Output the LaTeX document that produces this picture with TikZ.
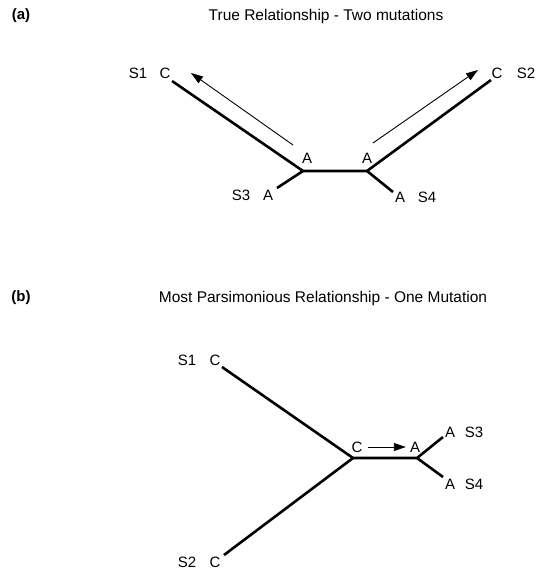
\documentclass[tikz,border=0pt]{standalone}
\usepackage{fontspec}
\setmainfont{Liberation Sans}
\usetikzlibrary{arrows.meta}
\begin{document}
\begin{tikzpicture}[x=1pt,y=-1pt,
  lbl/.style={inner sep=0pt,font=\fontsize{15}{18}\selectfont},
  ttl/.style={inner sep=0pt,font=\fontsize{15.5}{18}\selectfont},
  plbl/.style={inner sep=0pt,font=\fontsize{15}{18}\selectfont\bfseries},
  branch/.style={line width=2.6pt},
  mut/.style={line width=0.9pt,-{Triangle[length=12pt,width=8pt]}}]
\useasboundingbox (0,0) rectangle (538,572);
% ---------- (a) ----------
\node[plbl] (pa) at (21,16) {(a)};
\node[ttl] (ta) at (326,16) {True Relationship - Two mutations};
\node[lbl] (a1s) at (138,73) {S1};
\node[lbl] (a1c) at (165,73) {C};
\node[lbl] (a3s) at (241,195) {S3};
\node[lbl] (a3a) at (268,195) {A};
\node[lbl] (a4a) at (400,197) {A};
\node[lbl] (a4s) at (427,197) {S4};
\node[lbl] (a2c) at (497,73) {C};
\node[lbl] (a2s) at (526,73) {S2};
\node[lbl] (aLA) at (307,158) {A};
\node[lbl] (aRA) at (367,158) {A};
\coordinate (aLJ) at (303,171);
\coordinate (aRJ) at (367,171);
\coordinate (aE1) at (172,81);
\coordinate (aE3) at (277,188);
\coordinate (aE4) at (393,192);
\coordinate (aE2) at (491,80);
\draw[branch] (aE1) -- (aLJ) -- (aRJ) -- (aE2);
\draw[branch] (aE3) -- (aLJ);
\draw[branch] (aRJ) -- (aE4);
\coordinate (aM1s) at (293,145);
\coordinate (aM1e) at (191,73);
\coordinate (aM2s) at (373,143);
\coordinate (aM2e) at (478,70);
\draw[mut] (aM1s) -- (aM1e);
\draw[mut] (aM2s) -- (aM2e);
% ---------- (b) ----------
\node[plbl] (pb) at (21,298) {(b)};
\node[ttl] (tb) at (323,298) {Most Parsimonious Relationship - One Mutation};
\node[lbl] (b1s) at (187,360) {S1};
\node[lbl] (b1c) at (215,360) {C};
\node[lbl] (b2s) at (187,562) {S2};
\node[lbl] (b2c) at (215,562) {C};
\node[lbl] (b3a) at (450,432) {A};
\node[lbl] (b3s) at (474,432) {S3};
\node[lbl] (b4a) at (450,484) {A};
\node[lbl] (b4s) at (474,484) {S4};
\node[lbl] (bC) at (357,447) {C};
\node[lbl] (bA) at (415,447) {A};
\coordinate (bJ1) at (353,458);
\coordinate (bJ2) at (417,458);
\coordinate (bE1) at (222,367);
\coordinate (bE2) at (224,555);
\coordinate (bE3) at (443,437);
\coordinate (bE4) at (443,477);
\draw[branch] (bE1) -- (bJ1) -- (bJ2) -- (bE3);
\draw[branch] (bE2) -- (bJ1);
\draw[branch] (bJ2) -- (bE4);
\draw[mut] (bC.east) ++(5,0) coordinate (bMs) -- ([xshift=-4pt]bA.west);
\end{tikzpicture}
\end{document}
